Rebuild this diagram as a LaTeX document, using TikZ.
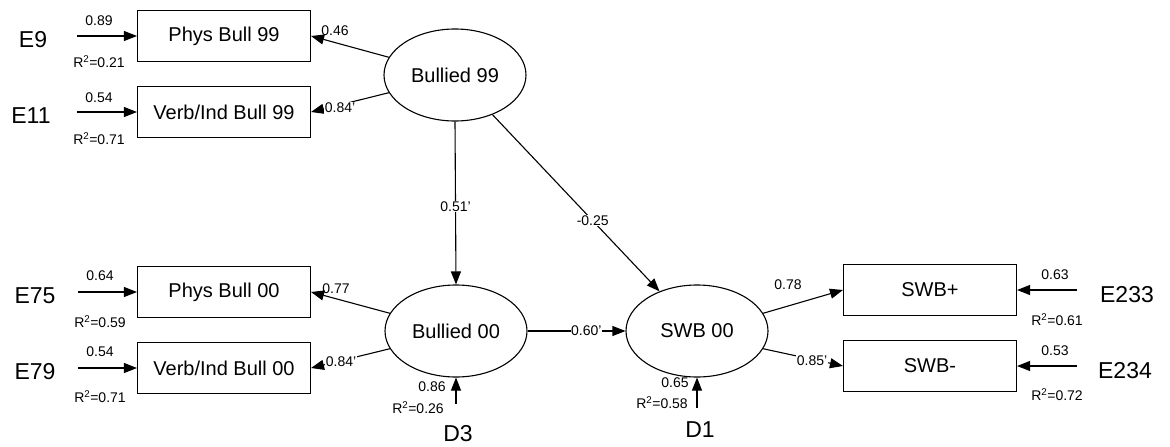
\documentclass[tikz,border=0pt]{standalone}
\usepackage{fontspec}
\setmainfont{Liberation Sans}
\usetikzlibrary{arrows.meta,shapes.geometric}
\begin{document}
\begin{tikzpicture}[x=1pt,y=-1pt,
  obs/.style={draw,line width=1.1pt,minimum width=173pt,minimum height=51pt,inner sep=0pt,font=\fontsize{20}{22}\selectfont},
  lat/.style={draw,ellipse,line width=1.1pt,minimum width=142pt,minimum height=92pt,inner sep=0pt,font=\fontsize{20}{22}\selectfont},
  err/.style={font=\fontsize{23}{25}\selectfont,inner sep=0pt},
  lab/.style={font=\fontsize{14}{15}\selectfont,inner sep=0.6pt},
  onl/.style={lab,fill=white},
  pth/.style={line width=1.1pt,-{Triangle[length=13pt,width=10pt]}},
]
\useasboundingbox (0,0) rectangle (1170,447);
% observed
\node[obs] (p99) at (224,36) {Phys Bull 99};
\node[obs] (v99) at (224,112) {Verb/Ind Bull 99};
\node[obs] (p00) at (224,292) {Phys Bull 00};
\node[obs] (v00) at (224,368) {Verb/Ind Bull 00};
\node[obs] (sp) at (930,290) {SWB+};
\node[obs] (sm) at (930,366) {SWB-};
% latent
\node[lat] (b99) at (455,75) {Bullied 99};
\node[lat] (b00) at (456,331) {Bullied 00};
\node[lat] (swb) at (697,331) {SWB 00};
% error labels
\node[err] (e9) at (33,40) {E9};
\node[err] (e11) at (31,116) {E11};
\node[err] (e75) at (35,296) {E75};
\node[err] (e79) at (35,372) {E79};
\node[err] (e233) at (1127,295) {E233};
\node[err] (e234) at (1125,371) {E234};
\node[err] (d3) at (458,434) {D3};
\node[err] (d1) at (700,430) {D1};
% tails
\coordinate (e9t) at (77,36);
\coordinate (e11t) at (77,112);
\coordinate (e75t) at (78,292);
\coordinate (e79t) at (78,368);
\coordinate (e233t) at (1077,290);
\coordinate (e234t) at (1077,366);
\coordinate (d3t) at (456,404);
\coordinate (d1t) at (697,408);
% error arrows
\draw[pth] (e9t) -- (p99.west);
\draw[pth] (e11t) -- (v99.west);
\draw[pth] (e75t) -- (p00.west);
\draw[pth] (e79t) -- (v00.west);
\draw[pth] (e233t) -- (sp.east);
\draw[pth] (e234t) -- (sm.east);
\draw[pth] (d3t) -- (b00.south);
\draw[pth] (d1t) -- (swb.south);
\node[lab] at (99,21) {0.89};
\node[lab] at (99,62) {R\textsuperscript{2}=0.21};
\node[lab] at (99,98) {0.54};
\node[lab] at (99,139) {R\textsuperscript{2}=0.71};
\node[lab] at (100,276) {0.64};
\node[lab] at (100,322) {R\textsuperscript{2}=0.59};
\node[lab] at (100,352) {0.54};
\node[lab] at (100,397) {R\textsuperscript{2}=0.71};
\node[lab] at (1055,275) {0.63};
\node[lab] at (1057,320) {R\textsuperscript{2}=0.61};
\node[lab] at (1055,351) {0.53};
\node[lab] at (1057,395) {R\textsuperscript{2}=0.72};
\node[lab] at (432,387) {0.86};
\node[lab] at (418,408) {R\textsuperscript{2}=0.26};
\node[lab] at (675,383) {0.65};
\node[lab] at (662,403) {R\textsuperscript{2}=0.58};
% loadings
\draw[pth] (b99.165) -- (p99.east);
\draw[pth] (b99.195) -- (v99.east);
\draw[pth] (b00.165) -- (p00.east);
\draw[pth] (b00.195) -- (v00.east);
\draw[pth] (swb.15) -- (sp.west);
\draw[pth] (swb.-15) -- (sm.west);
\node[lab] at (335,31) {0.46};
\node[onl] at (340,108) {0.84'};
\node[lab] at (336,289) {0.77};
\node[onl] at (341,362) {0.84'};
\node[lab] at (788,285) {0.78};
\node[onl] at (812,361) {0.85'};
% structural paths
\draw[pth] (b99.south) -- (b00.north) node[onl,pos=0.52] {0.51'};
\draw[pth] (b99) -- (swb) node[onl,pos=0.6] {-0.25};
\draw[pth] (b00) -- (swb) node[onl,pos=0.6] {0.60'};
\end{tikzpicture}
\end{document}
